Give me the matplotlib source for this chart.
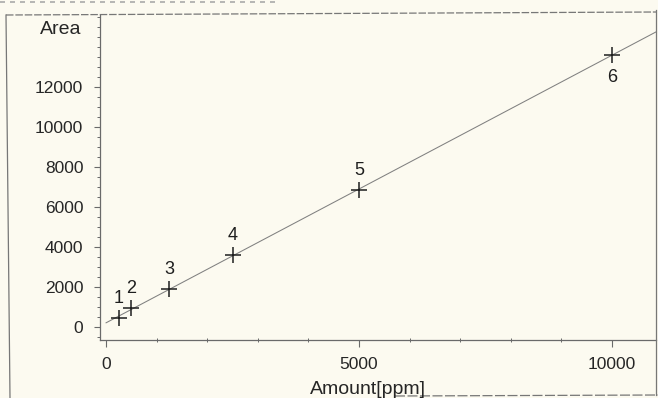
import numpy as np
import matplotlib.pyplot as plt
from matplotlib.lines import Line2D
from matplotlib.ticker import MultipleLocator

# Calibration standards
levels = ["1", "2", "3", "4", "5", "6"]
amount_ppm = [250, 500, 1250, 2500, 5000, 10000]
area = [450, 950, 1900, 3600, 6850, 13600]

BG = "#fcfaf0"
INK = "#262626"
LINE = "#6a6a6a"

plt.rcParams["font.family"] = ["Liberation Sans", "DejaVu Sans"]

fig = plt.figure(figsize=(6.58, 3.98), dpi=100, facecolor=BG)
W, H = 658, 398
ax = fig.add_axes([100 / W, 1 - 340 / H, 556 / W, 325 / H], facecolor=BG)

ax.set_xlim(-120, 10870)
ax.set_ylim(-650, 15600)

# linear fit through the standards
slope, intercept = np.polyfit(amount_ppm, area, 1)
fit_x = np.array([0, 10870])
ax.plot(fit_x, slope * fit_x + intercept, color="#808080", lw=0.75)

ax.plot(amount_ppm, area, linestyle="none", marker="+", markersize=12,
        markeredgewidth=1.1, color="#1e1e1e")

for lab, x, y in zip(levels, amount_ppm, area):
    dy = -16 if lab == "6" else 14
    ax.annotate(lab, (x, y), xytext=(0, dy), textcoords="offset points",
                ha="center", va="center", fontsize=13, color="#1e1e1e")

# axes styling
for side in ["top", "right"]:
    ax.spines[side].set_visible(False)
for side in ["left", "bottom"]:
    ax.spines[side].set_color(LINE)
    ax.spines[side].set_linewidth(0.9)

ax.set_xticks([0, 5000, 10000])
ax.set_yticks([0, 2000, 4000, 6000, 8000, 10000, 12000])
ax.xaxis.set_minor_locator(MultipleLocator(1000))
ax.yaxis.set_minor_locator(MultipleLocator(500))
ax.tick_params(axis="x", which="major", direction="out", length=5, width=0.8,
               color=LINE, pad=7, labelsize=12.5, labelcolor=INK)
ax.tick_params(axis="x", which="minor", direction="inout", length=3, width=0.7,
               color=LINE)
ax.tick_params(axis="y", which="major", direction="out", length=4, width=0.8,
               color=LINE, pad=8, labelsize=12.5, labelcolor=INK)
ax.tick_params(axis="y", which="minor", direction="out", length=2, width=0.7,
               color=LINE)

fig.text(81 / W, 1 - 30 / H, "Area", ha="right", va="center",
         fontsize=14, color=INK)
fig.text(368 / W, 1 - 389 / H, "Amount[ppm]", ha="center", va="center",
         fontsize=14, color=INK)

# outer frame of the printout
frame = dict(transform=fig.transFigure, color="#777777", lw=0.9)
fig.add_artist(Line2D([6 / W, 656 / W], [1 - 15 / H, 1 - 12 / H],
                      linestyle=(0, (6, 1.5)), **frame))
fig.add_artist(Line2D([6 / W, 10 / W], [1 - 15 / H, 0], **frame))
fig.add_artist(Line2D([656 / W, 656 / W], [1 - 10 / H, 1 - 395 / H], **frame))
fig.add_artist(Line2D([395 / W, 1], [1 - 396 / H, 1 - 395 / H],
                      linestyle=(0, (8, 2)), **frame))
fig.add_artist(Line2D([0, 280 / W], [1 - 2 / H, 1 - 2 / H],
                      linestyle=(0, (3, 3)), transform=fig.transFigure,
                      color="#aaaaaa", lw=1.2))

fig.savefig("out.png", dpi=100, facecolor=BG)
